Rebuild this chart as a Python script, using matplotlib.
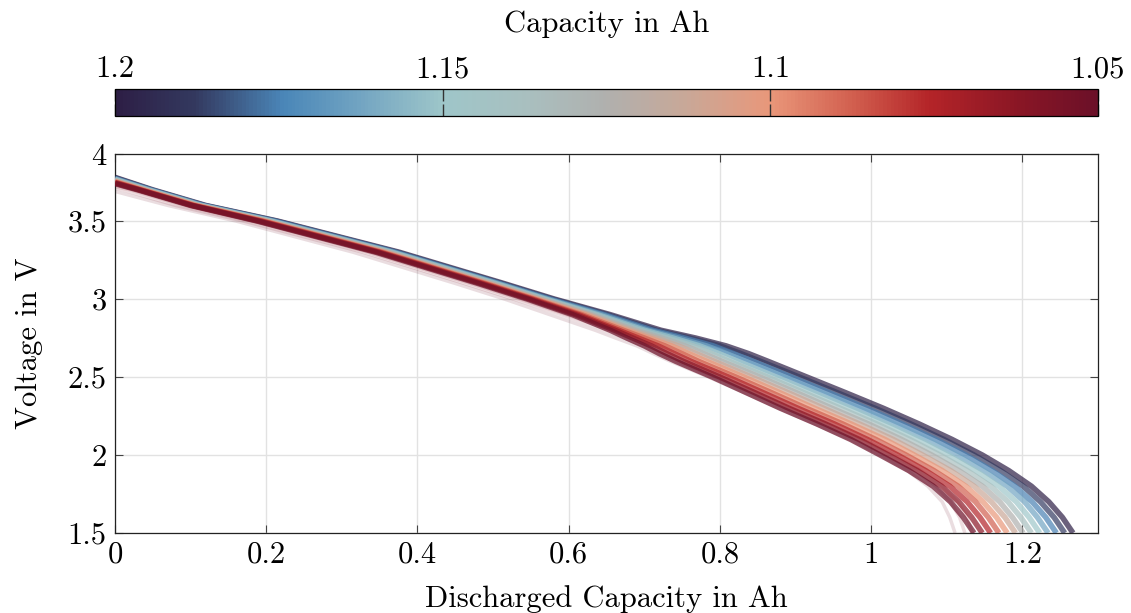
import matplotlib
matplotlib.use("Agg")
import matplotlib.pyplot as plt
from matplotlib.colors import LinearSegmentedColormap, Normalize
from matplotlib.cm import ScalarMappable

plt.rcParams.update({
    "font.family": "cmr10",
    "mathtext.fontset": "cm",
    "axes.formatter.use_mathtext": True,
    "axes.unicode_minus": False,
    "font.size": 22,
})

# Voltage levels (V) at which the discharged capacity of each cycle is listed
voltage_levels = [3.7, 3.6, 3.5, 3.3, 3.1, 3.0, 2.9, 2.8, 2.75, 2.7, 2.65, 2.6,
                  2.5, 2.4, 2.3, 2.2, 2.1, 2.0, 1.9, 1.8, 1.7, 1.6, 1.5]

# Cycle capacity (Ah) and voltage at zero discharged capacity
capacity_ah = [1.2, 1.1875, 1.175, 1.1625, 1.15, 1.1375, 1.125,
               1.1125, 1.1, 1.0875, 1.075, 1.0625, 1.05]
start_voltage = [3.78, 3.777, 3.773, 3.77, 3.767, 3.763, 3.76,
                 3.757, 3.753, 3.75, 3.747, 3.743, 3.74]

# Discharged capacity (Ah) reached at each voltage level, one list per cycle
q_1200 = [.050, .120, .215, .376, .514, .581, .655, .722, .768, .808, .838, .864,
          .915, .966, 1.016, 1.063, 1.107, 1.147, 1.182, 1.212, 1.235, 1.253, 1.267]
q_1188 = [.048, .118, .213, .373, .511, .578, .651, .716, .760, .800, .828, .854,
          .905, .955, 1.005, 1.052, 1.096, 1.136, 1.171, 1.201, 1.224, 1.242, 1.256]
q_1175 = [.047, .117, .211, .371, .508, .575, .647, .711, .753, .791, .818, .844,
          .894, .944, .993, 1.040, 1.085, 1.125, 1.160, 1.190, 1.213, 1.231, 1.245]
q_1163 = [.045, .115, .208, .368, .506, .572, .643, .705, .745, .782, .809, .833,
          .884, .933, .982, 1.029, 1.073, 1.113, 1.149, 1.180, 1.203, 1.220, 1.234]
q_1150 = [.043, .113, .206, .366, .503, .569, .638, .700, .738, .773, .799, .823,
          .873, .922, .971, 1.018, 1.062, 1.102, 1.138, 1.169, 1.192, 1.209, 1.223]
q_1138 = [.042, .112, .204, .363, .500, .566, .634, .694, .730, .764, .789, .813,
          .863, .911, .959, 1.007, 1.051, 1.091, 1.127, 1.158, 1.181, 1.198, 1.212]
q_1125 = [.040, .110, .202, .361, .497, .563, .630, .689, .723, .754, .779, .803,
          .853, .901, .948, .996, 1.040, 1.080, 1.116, 1.147, 1.170, 1.187, 1.201]
q_1113 = [.038, .108, .199, .358, .494, .560, .626, .683, .715, .745, .769, .793,
          .842, .890, .937, .984, 1.029, 1.068, 1.105, 1.136, 1.159, 1.177, 1.191]
q_1100 = [.037, .107, .197, .355, .491, .557, .622, .677, .707, .736, .759, .783,
          .832, .879, .925, .973, 1.018, 1.057, 1.094, 1.125, 1.148, 1.166, 1.180]
q_1088 = [.035, .105, .195, .353, .489, .554, .617, .672, .700, .727, .750, .772,
          .821, .868, .914, .962, 1.006, 1.046, 1.083, 1.115, 1.138, 1.155, 1.169]
q_1075 = [.033, .103, .193, .350, .486, .551, .613, .666, .692, .718, .740, .762,
          .811, .857, .903, .951, .995, 1.035, 1.072, 1.104, 1.127, 1.144, 1.158]
q_1063 = [.032, .102, .190, .348, .483, .548, .609, .661, .685, .709, .730, .752,
          .800, .846, .891, .939, .984, 1.023, 1.061, 1.093, 1.116, 1.133, 1.147]
q_1050 = [.030, .100, .188, .345, .480, .545, .605, .655, .677, .700, .720, .742,
          .790, .835, .880, .928, .973, 1.012, 1.050, 1.082, 1.105, 1.122, 1.136]

# Outlier cycles, drawn faintly
outlier_capacity_ah = [1.05, 1.06, 1.07]
outlier_start_voltage = [3.69, 3.71, 3.72]
outlier_1 = [None, .070, .160, .315, .450, .515, .575, .635, .662, .690, .712, .735,
             .785, .832, .878, .925, .972, 1.012, 1.048, 1.075, 1.094, 1.104, 1.111]
outlier_2 = [.010, .080, .170, .328, .462, .527, .590, .648, .674, .700, .722, .745,
             .795, .842, .888, .935, .982, 1.022, 1.058, 1.086, 1.105, 1.117, 1.124]
outlier_3 = [.020, .090, .178, .335, .470, .535, .597, .655, .680, .705, .727, .750,
             .800, .848, .895, .943, .990, 1.030, 1.066, 1.094, 1.114, 1.127, 1.134]

x_ticks = [0, 0.2, 0.4, 0.6, 0.8, 1.0, 1.2]
y_ticks = [1.5, 2, 2.5, 3, 3.5]
cbar_ticks = [1.2, 1.15, 1.1, 1.05]

main_curves = [q_1200, q_1188, q_1175, q_1163, q_1150, q_1138, q_1125,
               q_1113, q_1100, q_1088, q_1075, q_1063, q_1050]
outlier_curves = [outlier_1, outlier_2, outlier_3]

# Diverging colour map: low capacity = dark red, high capacity = dark blue
cmap = LinearSegmentedColormap.from_list("capacity", [
    (0.00, "#6b1028"), (0.08, "#8a1625"), (0.17, "#b42428"), (0.25, "#d2604f"),
    (0.333, "#e9977a"), (0.42, "#c8a898"), (0.50, "#b0b0ae"), (0.58, "#a9bfbf"),
    (0.667, "#9ec6c9"), (0.75, "#73a5c2"), (0.83, "#4a86b8"), (0.92, "#33395f"),
    (1.00, "#2d1e45"),
])
norm = Normalize(vmin=1.05, vmax=1.2)

fig = plt.figure(figsize=(11.31, 6.13), dpi=100)
ax = fig.add_axes([0.1017, 0.1305, 0.8691, 0.6183])
cax = fig.add_axes([0.1017, 0.8108, 0.8691, 0.0440])


def curve_points(v0, discharged):
    xs, ys = [0.0], [v0]
    for q, v in zip(discharged, voltage_levels):
        if q is not None:
            xs.append(q)
            ys.append(v)
    return xs, ys


for cap, v0, q in zip(outlier_capacity_ah, outlier_start_voltage, outlier_curves):
    xs, ys = curve_points(v0, q)
    ax.plot(xs, ys, color=cmap(norm(cap)), lw=2.5, alpha=0.14,
            solid_capstyle="butt", zorder=2)

for cap, v0, q in zip(capacity_ah, start_voltage, main_curves):
    xs, ys = curve_points(v0, q)
    ax.plot(xs, ys, color=cmap(norm(cap)), lw=4.0, alpha=0.7,
            solid_capstyle="butt", solid_joinstyle="round", zorder=3)

ax.set_xlim(0, 1.3)
ax.set_ylim(1.5, 3.93)
ax.set_xticks(x_ticks)
ax.set_xticklabels([f"{t:g}" for t in x_ticks])
ax.set_yticks(y_ticks + [3.93])
ax.set_yticklabels([f"{t:g}" for t in y_ticks] + ["4"])
ax.grid(True, color="#e2e2e2", lw=1.0)
ax.set_axisbelow(True)
ax.tick_params(direction="in", length=6, width=0.8, color="#444444",
               top=True, right=True, pad=6)
for s in ax.spines.values():
    s.set_linewidth(0.9)
    s.set_color("#222222")
ax.set_xlabel("Discharged Capacity in Ah", labelpad=12)
ax.set_ylabel("Voltage in V", labelpad=18)

sm = ScalarMappable(norm=norm, cmap=cmap)
cb = fig.colorbar(sm, cax=cax, orientation="horizontal", ticklocation="top")
cb.set_ticks(cbar_ticks)
cb.set_ticklabels([f"{t:g}" for t in cbar_ticks])
cax.invert_xaxis()
cax.tick_params(axis="x", direction="in", length=8.5, width=1.0, color="#333333",
                top=True, bottom=True, labeltop=True, labelbottom=False, pad=4)
cb.outline.set_linewidth(0.9)
cb.set_label("Capacity in Ah", labelpad=17)
cax.xaxis.set_label_position("top")

fig.savefig("out.png", dpi=100)
